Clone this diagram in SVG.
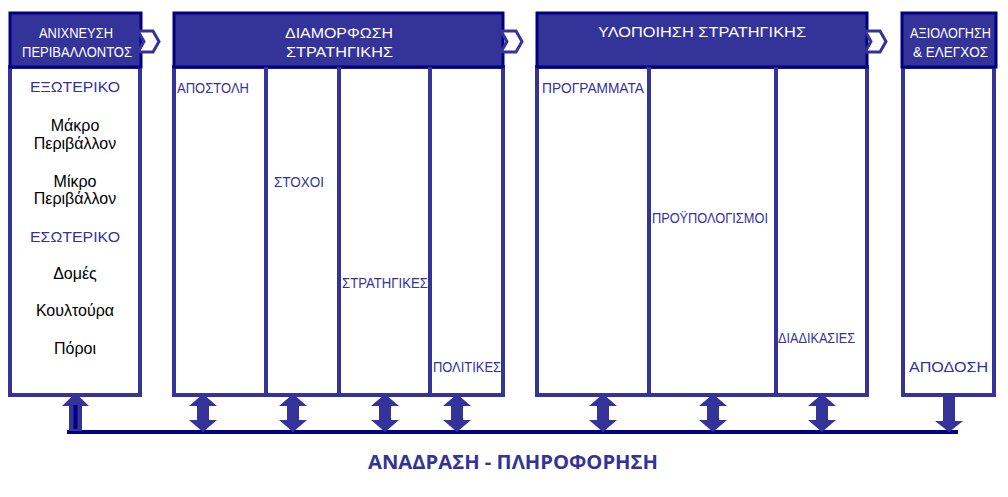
<svg xmlns="http://www.w3.org/2000/svg" width="1008" height="497" viewBox="0 0 1008 497">
<defs>
<style>
.hdr{fill:#333399;stroke:#000080;stroke-width:3}
.body{fill:#ffffff;stroke:#333399;stroke-width:4}
.div{stroke:#333399;stroke-width:4}
.chev{fill:#ffffff;stroke:#333399;stroke-width:3;stroke-linejoin:miter}
.ht{fill:#ffffff;font-family:"Liberation Sans",Arial,sans-serif;font-size:15px}
.lbl{fill:#333399;font-family:"Liberation Sans",Arial,sans-serif;font-size:15.5px}
.bk{fill:#000000;font-family:"Liberation Sans",Arial,sans-serif;font-size:16px;text-anchor:middle}
.arr{fill:#333399}
</style>
</defs>
<rect width="1008" height="497" fill="#ffffff"/>

<g id="scan">
<rect class="body" x="10" y="67" width="130" height="328"/>
<rect class="hdr" x="10" y="13" width="131" height="54"/>
<text class="ht" x="39" y="38" textLength="74" lengthAdjust="spacingAndGlyphs">ΑΝΙΧΝΕΥΣΗ</text>
<text class="ht" x="22" y="57" textLength="110" lengthAdjust="spacingAndGlyphs">ΠΕΡΙΒΑΛΛΟΝΤΟΣ</text>
<text class="lbl" x="30" y="92" textLength="90" lengthAdjust="spacingAndGlyphs">ΕΞΩΤΕΡΙΚΟ</text>
<text class="bk" x="75" y="131">Μάκρο</text>
<text class="bk" x="75" y="149">Περιβάλλον</text>
<text class="bk" x="75" y="187">Μίκρο</text>
<text class="bk" x="75" y="204">Περιβάλλον</text>
<text class="lbl" x="30" y="242" textLength="90" lengthAdjust="spacingAndGlyphs">ΕΣΩΤΕΡΙΚΟ</text>
<text class="bk" x="75" y="279">Δομές</text>
<text class="bk" x="75" y="316">Κουλτούρα</text>
<text class="bk" x="75" y="354">Πόροι</text>
</g>

<g id="formulation">
<rect class="body" x="174" y="67" width="329" height="328"/>
<rect class="hdr" x="174" y="13" width="329" height="54"/>
<line class="div" x1="266" y1="67" x2="266" y2="395"/>
<line class="div" x1="339" y1="67" x2="339" y2="395"/>
<line class="div" x1="430" y1="67" x2="430" y2="395"/>
<text class="ht" x="285" y="38" textLength="108" lengthAdjust="spacingAndGlyphs">ΔΙΑΜΟΡΦΩΣΗ</text>
<text class="ht" x="286" y="57" textLength="107" lengthAdjust="spacingAndGlyphs">ΣΤΡΑΤΗΓΙΚΗΣ</text>
<text class="lbl" x="177" y="93" textLength="72" lengthAdjust="spacingAndGlyphs">ΑΠΟΣΤΟΛΗ</text>
<text class="lbl" x="274" y="187" textLength="50" lengthAdjust="spacingAndGlyphs">ΣΤΟΧΟΙ</text>
<text class="lbl" x="342" y="288" textLength="86" lengthAdjust="spacingAndGlyphs">ΣΤΡΑΤΗΓΙΚΕΣ</text>
<text class="lbl" x="433" y="372" textLength="68" lengthAdjust="spacingAndGlyphs">ΠΟΛΙΤΙΚΕΣ</text>
</g>

<g id="implementation">
<rect class="body" x="537" y="67" width="330" height="328"/>
<rect class="hdr" x="537" y="13" width="330" height="54"/>
<line class="div" x1="649" y1="67" x2="649" y2="395"/>
<line class="div" x1="776" y1="67" x2="776" y2="395"/>
<text class="ht" x="598" y="37" textLength="208" lengthAdjust="spacingAndGlyphs">ΥΛΟΠΟΙΗΣΗ ΣΤΡΑΤΗΓΙΚΗΣ</text>
<text class="lbl" x="542" y="93" textLength="102" lengthAdjust="spacingAndGlyphs">ΠΡΟΓΡΑΜΜΑΤΑ</text>
<text class="lbl" x="652" y="223" textLength="116" lengthAdjust="spacingAndGlyphs">ΠΡΟΫΠΟΛΟΓΙΣΜΟΙ</text>
<text class="lbl" x="778" y="343" textLength="77" lengthAdjust="spacingAndGlyphs">ΔΙΑΔΙΚΑΣΙΕΣ</text>
</g>

<g id="evaluation">
<rect class="body" x="903" y="67" width="91" height="328"/>
<rect class="hdr" x="902" y="13" width="94" height="54"/>
<text class="ht" x="910" y="38" textLength="81" lengthAdjust="spacingAndGlyphs">ΑΞΙΟΛΟΓΗΣΗ</text>
<text class="ht" x="913" y="57" textLength="75" lengthAdjust="spacingAndGlyphs">&amp; ΕΛΕΓΧΟΣ</text>
<text class="lbl" x="909" y="372" textLength="79" lengthAdjust="spacingAndGlyphs">ΑΠΟΔΟΣΗ</text>
</g>

<g id="connectors">
<polygon class="chev" points="138,31 153,31 159,41.5 153,52 138,52 144,41.5"/>
<polygon class="chev" points="501,31 516,31 522,41.5 516,52 501,52 507,41.5"/>
<polygon class="chev" points="865,31 880,31 886,41.5 880,52 865,52 871,41.5"/>

<line x1="67" y1="432" x2="958" y2="432" stroke="#000080" stroke-width="4"/>

<polygon class="arr" points="75.5,393 89,406 82,406 82,431 69,431 69,406 62,406"/>
<line x1="75.5" y1="405" x2="75.5" y2="429" stroke="#000080" stroke-width="4"/>

<polygon class="arr" points="203,394 217,406 209,406 209,420 217,420 203,432 189,420 197,420 197,406 189,406"/>
<polygon class="arr" points="293,394 307,406 299,406 299,420 307,420 293,432 279,420 287,420 287,406 279,406"/>
<polygon class="arr" points="385,394 399,406 391,406 391,420 399,420 385,432 371,420 379,420 379,406 371,406"/>
<polygon class="arr" points="457,394 471,406 463,406 463,420 471,420 457,432 443,420 451,420 451,406 443,406"/>
<polygon class="arr" points="603,394 617,406 609,406 609,420 617,420 603,432 589,420 597,420 597,406 589,406"/>
<polygon class="arr" points="713,394 727,406 719,406 719,420 727,420 713,432 699,420 707,420 707,406 699,406"/>
<polygon class="arr" points="822,394 836,406 828,406 828,420 836,420 822,432 808,420 816,420 816,406 808,406"/>

<polygon class="arr" points="943,395 955,395 955,421 963,421 949,432 935,421 943,421"/>
</g>

<text x="513" y="469" text-anchor="middle" fill="#333399" font-family="'Open Sans','Liberation Sans',sans-serif" font-size="20" font-weight="bold" textLength="290" lengthAdjust="spacingAndGlyphs">ΑΝΑΔΡΑΣΗ - ΠΛΗΡΟΦΟΡΗΣΗ</text>
</svg>
